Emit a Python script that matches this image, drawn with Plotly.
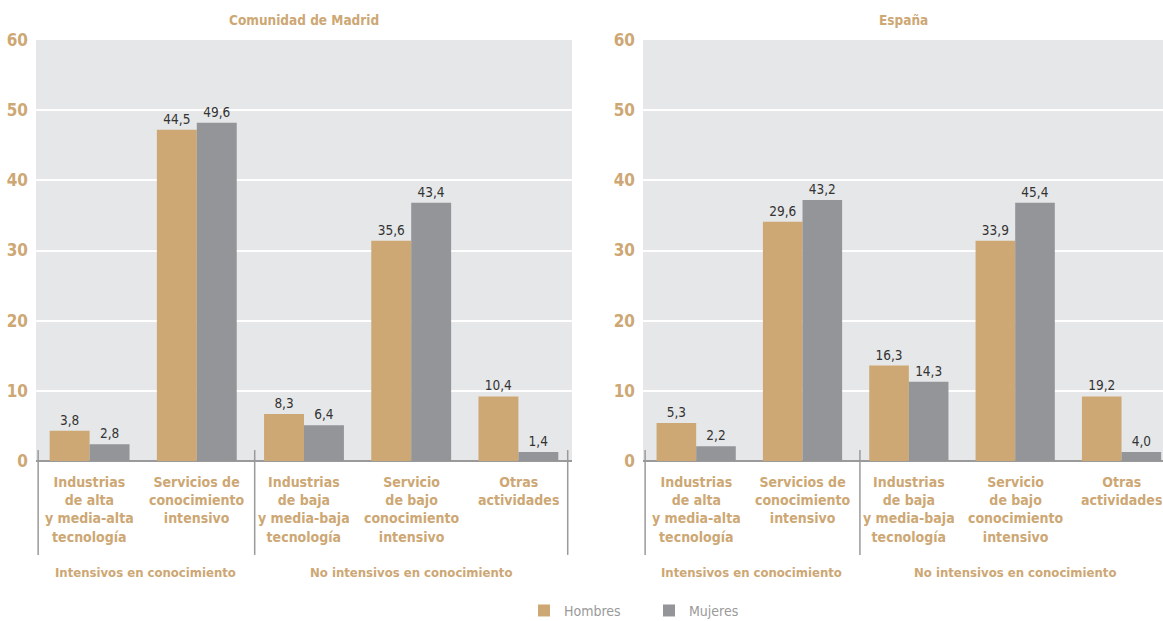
import plotly.graph_objects as go
from plotly.subplots import make_subplots

categories = ["Industrias<br>de alta<br>y media-alta<br>tecnología",
              "Servicios de<br>conocimiento<br>intensivo",
              "Industrias<br>de baja<br>y media-baja<br>tecnología",
              "Servicio<br>de bajo<br>conocimiento<br>intensivo",
              "Otras<br>actividades"]
groups = ["Intensivos en conocimiento", "No intensivos en conocimiento"]
panels = ["Comunidad de Madrid", "España"]
series = ["Hombres", "Mujeres"]

# bar heights as drawn in the picture
madrid_hombres = [4.3, 47.2, 6.7, 31.4, 9.2]
madrid_mujeres = [2.4, 48.2, 5.1, 36.8, 1.3]
espana_hombres = [5.4, 34.1, 13.6, 31.4, 9.2]
espana_mujeres = [2.1, 37.2, 11.3, 36.8, 1.3]
# value labels printed above the bars
madrid_hombres_lbl = ["3,8", "44,5", "8,3", "35,6", "10,4"]
madrid_mujeres_lbl = ["2,8", "49,6", "6,4", "43,4", "1,4"]
espana_hombres_lbl = ["5,3", "29,6", "16,3", "33,9", "19,2"]
espana_mujeres_lbl = ["2,2", "43,2", "14,3", "45,4", "4,0"]

TAN = "#CDA774"
GREY = "#939598"
FONT = "Liberation Sans Narrow, Arial Narrow, DejaVu Sans Condensed, sans-serif"

fig = make_subplots(rows=1, cols=2, horizontal_spacing=0.0)
xs = list(range(len(categories)))

data = [
    (madrid_hombres, madrid_mujeres, madrid_hombres_lbl, madrid_mujeres_lbl),
    (espana_hombres, espana_mujeres, espana_hombres_lbl, espana_mujeres_lbl),
]
for ci, (h, m, hl, ml) in enumerate(data):
    for si, (vals, lbls, col) in enumerate([(h, hl, TAN), (m, ml, GREY)]):
        fig.add_trace(go.Bar(
            x=xs, y=vals, text=lbls, textposition="outside",
            textfont=dict(size=13.5, color="#333333", family=FONT),
            marker=dict(color=col, line=dict(width=0)),
            name=series[si], showlegend=(ci == 0), legendgroup=series[si],
            cliponaxis=False,
        ), row=1, col=ci + 1)

fig.update_layout(
    width=1163, height=621,
    margin=dict(l=36, r=0, t=40, b=160, autoexpand=False),
    paper_bgcolor="white", plot_bgcolor="#E6E7E9",
    barmode="group", bargap=0.255, bargroupgap=0,
    font=dict(family=FONT),
    legend=dict(orientation="h", x=0.433, xanchor="left", y=-0.356, yanchor="middle",
                font=dict(size=14, color="#9a9a9a", family=FONT),
                traceorder="normal", itemwidth=30,
                entrywidth=80, entrywidthmode="pixels"),
)

fig.update_layout(
    xaxis=dict(domain=[0, 0.4756], range=[-0.5, 4.5]),
    xaxis2=dict(domain=[0.5386, 1.0], range=[-0.5, 4.39]),
)
fig.update_xaxes(showticklabels=False, showgrid=False, zeroline=False, showline=False,
                 automargin=False)
fig.update_yaxes(range=[0, 60], dtick=10, showgrid=True, gridcolor="white", gridwidth=1.5,
                 zeroline=True, zerolinecolor="#9a9a9a", zerolinewidth=1.5,
                 showline=False, ticks="", automargin=False, ticklabelstandoff=7,
                 tickfont=dict(size=17, color=TAN, family=FONT, weight="bold"))

# annotations & separators per panel
axes = [("x", "x domain"), ("x2", "x2 domain")]
for pi, (xr, xd) in enumerate(axes):
    fig.add_annotation(xref=xd, yref="paper", x=0.5, y=1.0475, text=panels[pi],
                       showarrow=False, yanchor="middle",
                       font=dict(size=13.5, color=TAN, family=FONT, weight="bold"))
    for i, c in enumerate(categories):
        fig.add_annotation(xref=xr, yref="paper", x=i, y=-0.026, text=c,
                           showarrow=False, yanchor="top",
                           font=dict(size=14, color=TAN, family=FONT, weight="bold"))
    fig.add_annotation(xref=xr, yref="paper", x=0.52, y=-0.264, text=groups[0],
                       showarrow=False, yanchor="middle",
                       font=dict(size=13, color=TAN, family=FONT, weight="bold"))
    fig.add_annotation(xref=xr, yref="paper", x=3.0, y=-0.264, text=groups[1],
                       showarrow=False, yanchor="middle",
                       font=dict(size=13, color=TAN, family=FONT, weight="bold"))
    for sx in [-0.48, 1.54, 4.46]:
        fig.add_shape(type="line", xref=xr, yref="paper", x0=sx, x1=sx, y0=0.026, y1=-0.223,
                      line=dict(color="#9a9a9a", width=1.5))

fig.write_html("out.html",
               config={"displayModeBar": False},
               post_script="document.body.style.margin='0';"
                           "document.body.style.overflow='hidden';"
                           "document.documentElement.style.overflow='hidden';")
